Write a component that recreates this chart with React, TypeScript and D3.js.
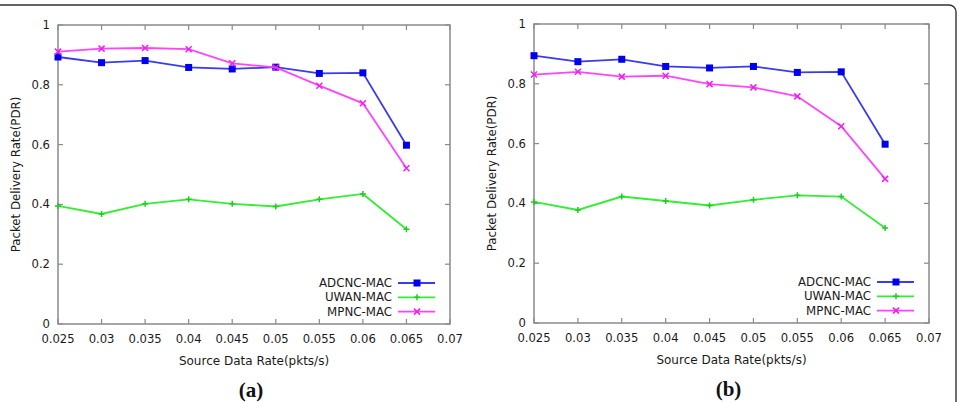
import React from 'react';
import * as d3 from 'd3';

// Source data rates (pkts/s)
const rates = [0.025, 0.03, 0.035, 0.04, 0.045, 0.05, 0.055, 0.06, 0.065];
const xTicks = [0.025, 0.03, 0.035, 0.04, 0.045, 0.05, 0.055, 0.06, 0.065, 0.07];
const yTicks = [0, 0.2, 0.4, 0.6, 0.8, 1];

// PDR, scenario (a)
const adcncA = [0.893, 0.874, 0.881, 0.858, 0.853, 0.859, 0.838, 0.840, 0.598];
const uwanA = [0.395, 0.368, 0.402, 0.417, 0.402, 0.393, 0.417, 0.435, 0.317];
const mpncA = [0.911, 0.921, 0.923, 0.919, 0.872, 0.858, 0.797, 0.738, 0.521];

// PDR, scenario (b)
const adcncB = [0.894, 0.874, 0.882, 0.858, 0.853, 0.858, 0.838, 0.840, 0.598];
const uwanB = [0.405, 0.378, 0.423, 0.408, 0.393, 0.412, 0.427, 0.423, 0.318];
const mpncB = [0.831, 0.840, 0.824, 0.827, 0.799, 0.788, 0.758, 0.658, 0.482];

const seriesNames = ['ADCNC-MAC', 'UWAN-MAC', 'MPNC-MAC'];

const FONT = '"DejaVu Sans", sans-serif';
const TEXT = '#1a1a1a';
const styles = [
  { line: '#3a3af0', mark: '#0000ee', kind: 'square' },
  { line: '#33ee33', mark: '#22cc22', kind: 'plus' },
  { line: '#ff44ff', mark: '#ee22ee', kind: 'cross' },
];

function Marker({ x, y, kind, color }: { x: number; y: number; kind: string; color: string }) {
  if (kind === 'square') {
    return <rect x={x - 3.5} y={y - 3.5} width={7} height={7} fill={color} />;
  }
  if (kind === 'plus') {
    return (
      <path d={`M${x - 3},${y}H${x + 3}M${x},${y - 3}V${y + 3}`} stroke={color} strokeWidth={1.5} />
    );
  }
  return (
    <path
      d={`M${x - 3},${y - 3}L${x + 3},${y + 3}M${x - 3},${y + 3}L${x + 3},${y - 3}`}
      stroke={color}
      strokeWidth={1.5}
    />
  );
}

interface PanelProps {
  left: number;
  right: number;
  top: number;
  bottom: number;
  series: number[][];
  caption: string;
}

function Panel({ left, right, top, bottom, series, caption }: PanelProps) {
  const x = d3.scaleLinear().domain([0.025, 0.07]).range([left, right]);
  const y = d3.scaleLinear().domain([0, 1]).range([bottom, top]);
  const line = d3
    .line<number>()
    .x((_, i) => x(rates[i]))
    .y((d) => y(d));
  const tick = 5;
  const axisColor = '#8a8a8a';
  const midX = (left + right) / 2;
  const midY = (top + bottom) / 2;

  return (
    <g>
      <rect x={left} y={top} width={right - left} height={bottom - top} fill="none" stroke={axisColor} strokeWidth={1.5} />
      {xTicks.map((t) => (
        <g key={'x' + t}>
          <line x1={x(t)} x2={x(t)} y1={bottom} y2={bottom - tick} stroke={axisColor} strokeWidth={1.2} />
          <line x1={x(t)} x2={x(t)} y1={top} y2={top + tick} stroke={axisColor} strokeWidth={1.2} />
          <text x={x(t)} y={bottom + 19} textAnchor="middle" fontSize={11.6} fontFamily={FONT} fill={TEXT}>
            {String(t)}
          </text>
        </g>
      ))}
      {yTicks.map((t) => (
        <g key={'y' + t}>
          <line x1={left} x2={left + tick} y1={y(t)} y2={y(t)} stroke={axisColor} strokeWidth={1.2} />
          <line x1={right} x2={right - tick} y1={y(t)} y2={y(t)} stroke={axisColor} strokeWidth={1.2} />
          <text x={left - 8} y={y(t)} dy="0.35em" textAnchor="end" fontSize={11.6} fontFamily={FONT} fill={TEXT}>
            {String(t)}
          </text>
        </g>
      ))}
      <text
        transform={`translate(${left - 42},${midY}) rotate(-90)`}
        textAnchor="middle"
        dy="0.35em"
        fontSize={11.8}
        fontFamily={FONT}
        fill={TEXT}
      >
        Packet Delivery Rate(PDR)
      </text>
      <text x={midX} y={bottom + 41} textAnchor="middle" fontSize={12} fontFamily={FONT} fill={TEXT}>
        Source Data Rate(pkts/s)
      </text>
      {series.map((vals, si) => (
        <g key={si}>
          <path d={line(vals) || ''} fill="none" stroke={styles[si].line} strokeWidth={1.8} />
          {vals.map((v, i) => (
            <Marker key={i} x={x(rates[i])} y={y(v)} kind={styles[si].kind} color={styles[si].mark} />
          ))}
        </g>
      ))}
      {seriesNames.map((name, si) => {
        const ly = bottom - 41 + si * 14.3;
        const lx = right - 58;
        return (
          <g key={name}>
            <text x={lx} y={ly} dy="0.35em" textAnchor="end" fontSize={11.8} fontFamily={FONT} fill={TEXT}>
              {name}
            </text>
            <line x1={lx + 6} x2={lx + 43} y1={ly} y2={ly} stroke={styles[si].line} strokeWidth={1.8} />
            <Marker x={lx + 25} y={ly} kind={styles[si].kind} color={styles[si].mark} />
          </g>
        );
      })}
      <text
        x={midX - 3}
        y={bottom + 73}
        textAnchor="middle"
        fontSize={21}
        fontWeight="bold"
        fontFamily='"Liberation Serif", serif'
        fill="#111"
      >
        {caption}
      </text>
    </g>
  );
}

export default function App() {
  return (
    <svg
      width={959}
      height={402}
      style={{ position: 'absolute', left: 0, top: 0, background: '#fff' }}
    >
      <rect x={-12} y={5} width={968} height={420} rx={7} fill="#fff" stroke="#333" strokeWidth={1.4} />
      <Panel left={58} right={450} top={25} bottom={324} series={[adcncA, uwanA, mpncA]} caption="(a)" />
      <Panel left={534} right={929} top={24} bottom={323} series={[adcncB, uwanB, mpncB]} caption="(b)" />
    </svg>
  );
}
